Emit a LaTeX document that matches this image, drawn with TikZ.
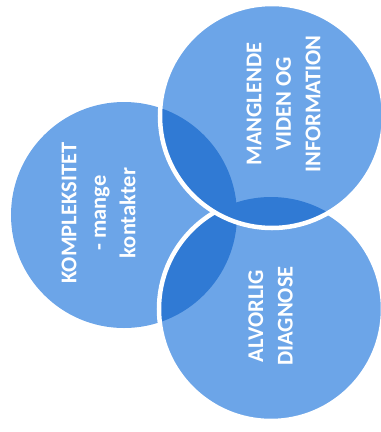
\documentclass[tikz,border=0pt]{standalone}
\usepackage{fontspec}
\setmainfont{Carlito}
\definecolor{venn}{RGB}{108,165,232}
\definecolor{venndark}{RGB}{48,122,212}
\begin{document}
\begin{tikzpicture}[x=1bp,y=-1bp,
  rim/.style={draw=white,line width=4.5bp},
  label/.style={text=white,inner sep=0pt,align=center,rotate=90,
    font=\bfseries\fontsize{22.5bp}{29.5bp}\selectfont}]
\useasboundingbox (0,0) rectangle (381,432);
% circle centres and radii
\coordinate (cL) at (124,215);
\coordinate (cB) at (271,309);
\coordinate (cT) at (272,116);
\def\rL{113bp}
\def\rB{112bp}
\def\rT{112bp}
% left disc
\fill[venn] (cL) circle[radius=\rL];
% bottom disc, its overlap with the left disc, and its rim
\fill[venn] (cB) circle[radius=\rB];
\begin{scope}
  \clip (cL) circle[radius=\rL];
  \fill[venndark] (cB) circle[radius=\rB];
\end{scope}
\draw[rim] (cB) circle[radius=\rB];
% top disc, its overlaps with the other two, and its rim
\fill[venn] (cT) circle[radius=\rT];
\begin{scope}
  \clip (cT) circle[radius=\rT];
  \fill[venndark] (cL) circle[radius=\rL];
  \fill[venndark] (cB) circle[radius=\rB];
\end{scope}
\draw[rim] (cT) circle[radius=\rT];
% labels
\node[label] (tT) at (283.5,104) {MANGLENDE\\VIDEN OG\\INFORMATION};
\node[label] (tL) at (98.5,213) {KOMPLEKSITET\\- mange\\kontakter};
\node[label] (tB) at (270.5,316) {ALVORLIG\\DIAGNOSE};
\end{tikzpicture}
\end{document}
